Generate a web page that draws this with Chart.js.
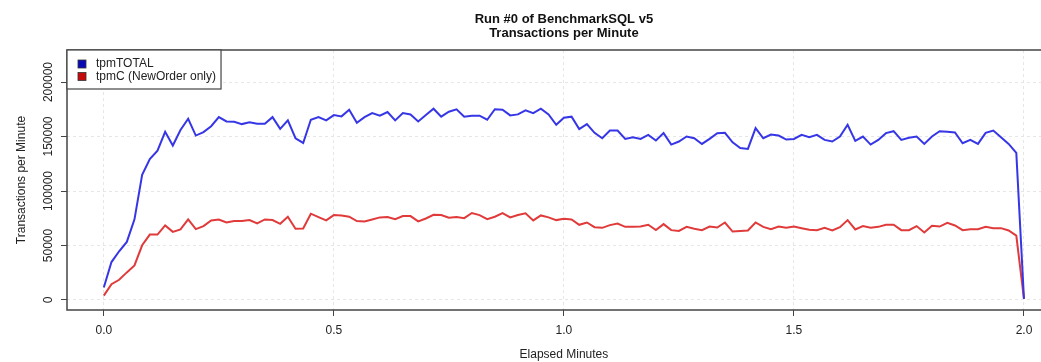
<!DOCTYPE html>
<html>
<head>
<meta charset="utf-8">
<script src="https://cdn.jsdelivr.net/npm/chart.js@4.4.1/dist/chart.umd.min.js"></script>
<style>
  html, body { margin: 0; padding: 0; background: #fff; }
</style>
</head>
<body>
<canvas id="tpmChart" width="1041" height="362"></canvas>
<script>
// elapsed time of each sample, in seconds
const elapsedSeconds = [
  0, 1, 2, 3, 4, 5, 6, 7, 8, 9, 10, 11, 12, 13, 14, 15, 16, 17, 18, 19,
  20, 21, 22, 23, 24, 25, 26, 27, 28, 29, 30, 31, 32, 33, 34, 35, 36, 37, 38, 39,
  40, 41, 42, 43, 44, 45, 46, 47, 48, 49, 50, 51, 52, 53, 54, 55, 56, 57, 58, 59,
  60, 61, 62, 63, 64, 65, 66, 67, 68, 69, 70, 71, 72, 73, 74, 75, 76, 77, 78, 79,
  80, 81, 82, 83, 84, 85, 86, 87, 88, 89, 90, 91, 92, 93, 94, 95, 96, 97, 98, 99,
  100, 101, 102, 103, 104, 105, 106, 107, 108, 109, 110, 111, 112, 113, 114, 115, 116, 117, 118, 119,
  120
];

const tpmTotal = [
  11400, 34800, 44700, 53300, 74000, 114900, 129300, 137000, 154300, 141700,
  156000, 166300, 150900, 154000, 159500, 167800, 163800, 163500, 161400, 163000,
  161700, 161700, 167800, 157000, 164800, 148400, 144100, 165400, 167800, 164800,
  169700, 168500, 174600, 162600, 167800, 171500, 169100, 172500, 164800, 171500,
  170300, 163800, 169700, 175500, 168200, 172800, 175000, 168200, 169100, 169100,
  165400, 175000, 174600, 169400, 170300, 174000, 171500, 175500, 170300, 160800,
  167200, 168200, 156800, 161400, 153400, 148400, 155500, 155500, 147800, 149400,
  147800, 151500, 146300, 153100, 142600, 145400, 150000, 148400, 143200, 147800,
  153100, 153400, 144700, 139500, 138600, 157700, 148400, 151800, 150900, 147200,
  147800, 151500, 149400, 151500, 146900, 145400, 150000, 160800, 146000, 150000,
  142600, 146900, 153100, 154900, 146900, 148800, 150000, 143200, 150000, 154900,
  154300, 153700, 143800, 146900, 143200, 153400, 155500, 149400, 143200, 134900,
  1000
];

const tpmNewOrder = [
  4000, 14500, 18500, 25300, 31700, 50200, 60000, 60000, 68400, 62500,
  64700, 73900, 65000, 67800, 73000, 73900, 71100, 72400, 72400, 73300,
  70200, 73900, 73300, 69900, 76400, 65300, 65600, 79200, 76100, 73000,
  77900, 77600, 76400, 72400, 72100, 73900, 75800, 76100, 74200, 77000,
  77000, 72100, 74800, 78200, 77900, 75500, 76100, 75100, 79800, 77900,
  74200, 76400, 79800, 75800, 77900, 79500, 73000, 77600, 75800, 73300,
  74500, 73900, 69000, 71100, 66800, 66200, 68700, 70200, 67100, 67100,
  67400, 69000, 64100, 69600, 64100, 63400, 67100, 65300, 64100, 67400,
  66500, 71100, 62800, 63400, 63800, 71100, 67100, 65000, 67400, 66200,
  67400, 65900, 64400, 64100, 66200, 63800, 66800, 73300, 64700, 67800,
  66200, 67100, 69000, 69000, 64100, 64100, 67800, 61900, 68100, 67400,
  70800, 68400, 64100, 65000, 65000, 67100, 65900, 65900, 63800, 59100,
  1000
];

const seriesNames = ['tpmTOTAL', 'tpmC (NewOrder only)'];
const xTicks = [0, 0.5, 1.0, 1.5, 2.0];
const yTicks = [0, 50000, 100000, 150000, 200000];
const titleLines = ['Run #0 of BenchmarkSQL v5', 'Transactions per Minute'];
const xTitle = 'Elapsed Minutes';
const yTitle = 'Transactions per Minute';

const FONT = '"Liberation Sans", Arial, Helvetica, sans-serif';
const lineColors = ['#3636e6', '#e03a3a'];
const legendFills = ['#0a0ab4', '#c40a0a'];

function toPoints(values) {
  return values.map((v, i) => ({ x: elapsedSeconds[i] / 60, y: v }));
}

// R-style frame, rotated y labels, titles and legend box
const rFrame = {
  id: 'rFrame',
  beforeDraw(chart) {
    const c = chart.ctx;
    c.save();
    c.fillStyle = '#fff';
    c.fillRect(0, 0, chart.width, chart.height);
    c.restore();
  },
  afterDraw(chart) {
    const c = chart.ctx;
    const a = chart.chartArea;
    const xs = chart.scales.x;
    const ys = chart.scales.y;
    c.save();

    // plot box (right side lies past the canvas edge)
    c.strokeStyle = '#444';
    c.lineWidth = 1.5;
    c.beginPath();
    c.moveTo(a.right + 5, a.top);
    c.lineTo(a.left, a.top);
    c.lineTo(a.left, a.bottom);
    c.lineTo(a.right + 5, a.bottom);
    c.stroke();

    // y tick labels, parallel to the axis
    c.fillStyle = '#222';
    c.font = '12px ' + FONT;
    c.textAlign = 'center';
    c.textBaseline = 'middle';
    yTicks.forEach(v => {
      c.save();
      c.translate(49, ys.getPixelForValue(v));
      c.rotate(-Math.PI / 2);
      c.fillText(String(v), 0, 0);
      c.restore();
    });

    // centre of the full plot region (x = 1.0 minutes)
    const cx = xs.getPixelForValue(1.0);

    // axis titles
    c.fillText(xTitle, cx, 355);
    c.save();
    c.translate(22, (a.top + a.bottom) / 2);
    c.rotate(-Math.PI / 2);
    c.fillText(yTitle, 0, 0);
    c.restore();

    // main title
    c.fillStyle = '#111';
    c.font = 'bold 13px ' + FONT;
    c.fillText(titleLines[0], cx, 19);
    c.fillText(titleLines[1], cx, 33);

    // legend
    c.font = '12px ' + FONT;
    const textX = a.left + 29;
    let maxW = 0;
    chart.data.datasets.forEach(ds => { maxW = Math.max(maxW, c.measureText(ds.label).width); });
    const boxW = textX + maxW + 5 - a.left;
    c.fillStyle = '#fff';
    c.fillRect(a.left, a.top, boxW, 39);
    c.strokeStyle = '#444';
    c.lineWidth = 1.2;
    c.strokeRect(a.left, a.top, boxW, 39);
    c.textAlign = 'left';
    chart.data.datasets.forEach((ds, i) => {
      const yy = a.top + 14 + i * 12.5;
      c.fillStyle = legendFills[i];
      c.fillRect(a.left + 11, yy - 4, 8, 8);
      c.strokeStyle = '#333';
      c.lineWidth = 0.8;
      c.strokeRect(a.left + 11, yy - 4, 8, 8);
      c.fillStyle = '#222';
      c.fillText(ds.label, textX, yy);
    });
    c.restore();
  }
};

const ctx = document.getElementById('tpmChart').getContext('2d');
const chart = new Chart(ctx, {
  type: 'line',
  data: {
    datasets: [
      {
        label: seriesNames[0],
        data: toPoints(tpmTotal),
        borderColor: lineColors[0],
        borderWidth: 2,
        pointRadius: 0,
        tension: 0,
        fill: false
      },
      {
        label: seriesNames[1],
        data: toPoints(tpmNewOrder),
        borderColor: lineColors[1],
        borderWidth: 2,
        pointRadius: 0,
        tension: 0,
        fill: false
      }
    ]
  },
  options: {
    responsive: false,
    animation: false,
    devicePixelRatio: 1,
    layout: { padding: { top: 50, left: 0, right: 0, bottom: 0 } },
    plugins: {
      legend: { display: false },
      title: { display: false },
      tooltip: { enabled: false }
    },
    scales: {
      x: {
        type: 'linear',
        min: -0.08,
        max: 2.037,
        afterBuildTicks: s => { s.ticks = xTicks.map(v => ({ value: v })); },
        afterFit: s => { s.height = 52; },
        ticks: {
          color: '#222',
          font: { family: FONT, size: 12 },
          padding: 7,
          maxRotation: 0,
          callback: v => Number(v).toFixed(1)
        },
        grid: { color: '#e6e6e6', lineWidth: 1, tickColor: '#444', tickLength: 6, tickWidth: 1 },
        border: { display: false, dash: [3, 3] }
      },
      y: {
        type: 'linear',
        min: -9200,
        max: 229400,
        afterBuildTicks: s => { s.ticks = yTicks.map(v => ({ value: v })); },
        afterFit: s => { s.width = 67; },
        ticks: { display: false },
        grid: { color: '#e6e6e6', lineWidth: 1, tickColor: '#444', tickLength: 6, tickWidth: 1 },
        border: { display: false, dash: [3, 3] }
      }
    }
  },
  plugins: [rFrame]
});
</script>
</body>
</html>
